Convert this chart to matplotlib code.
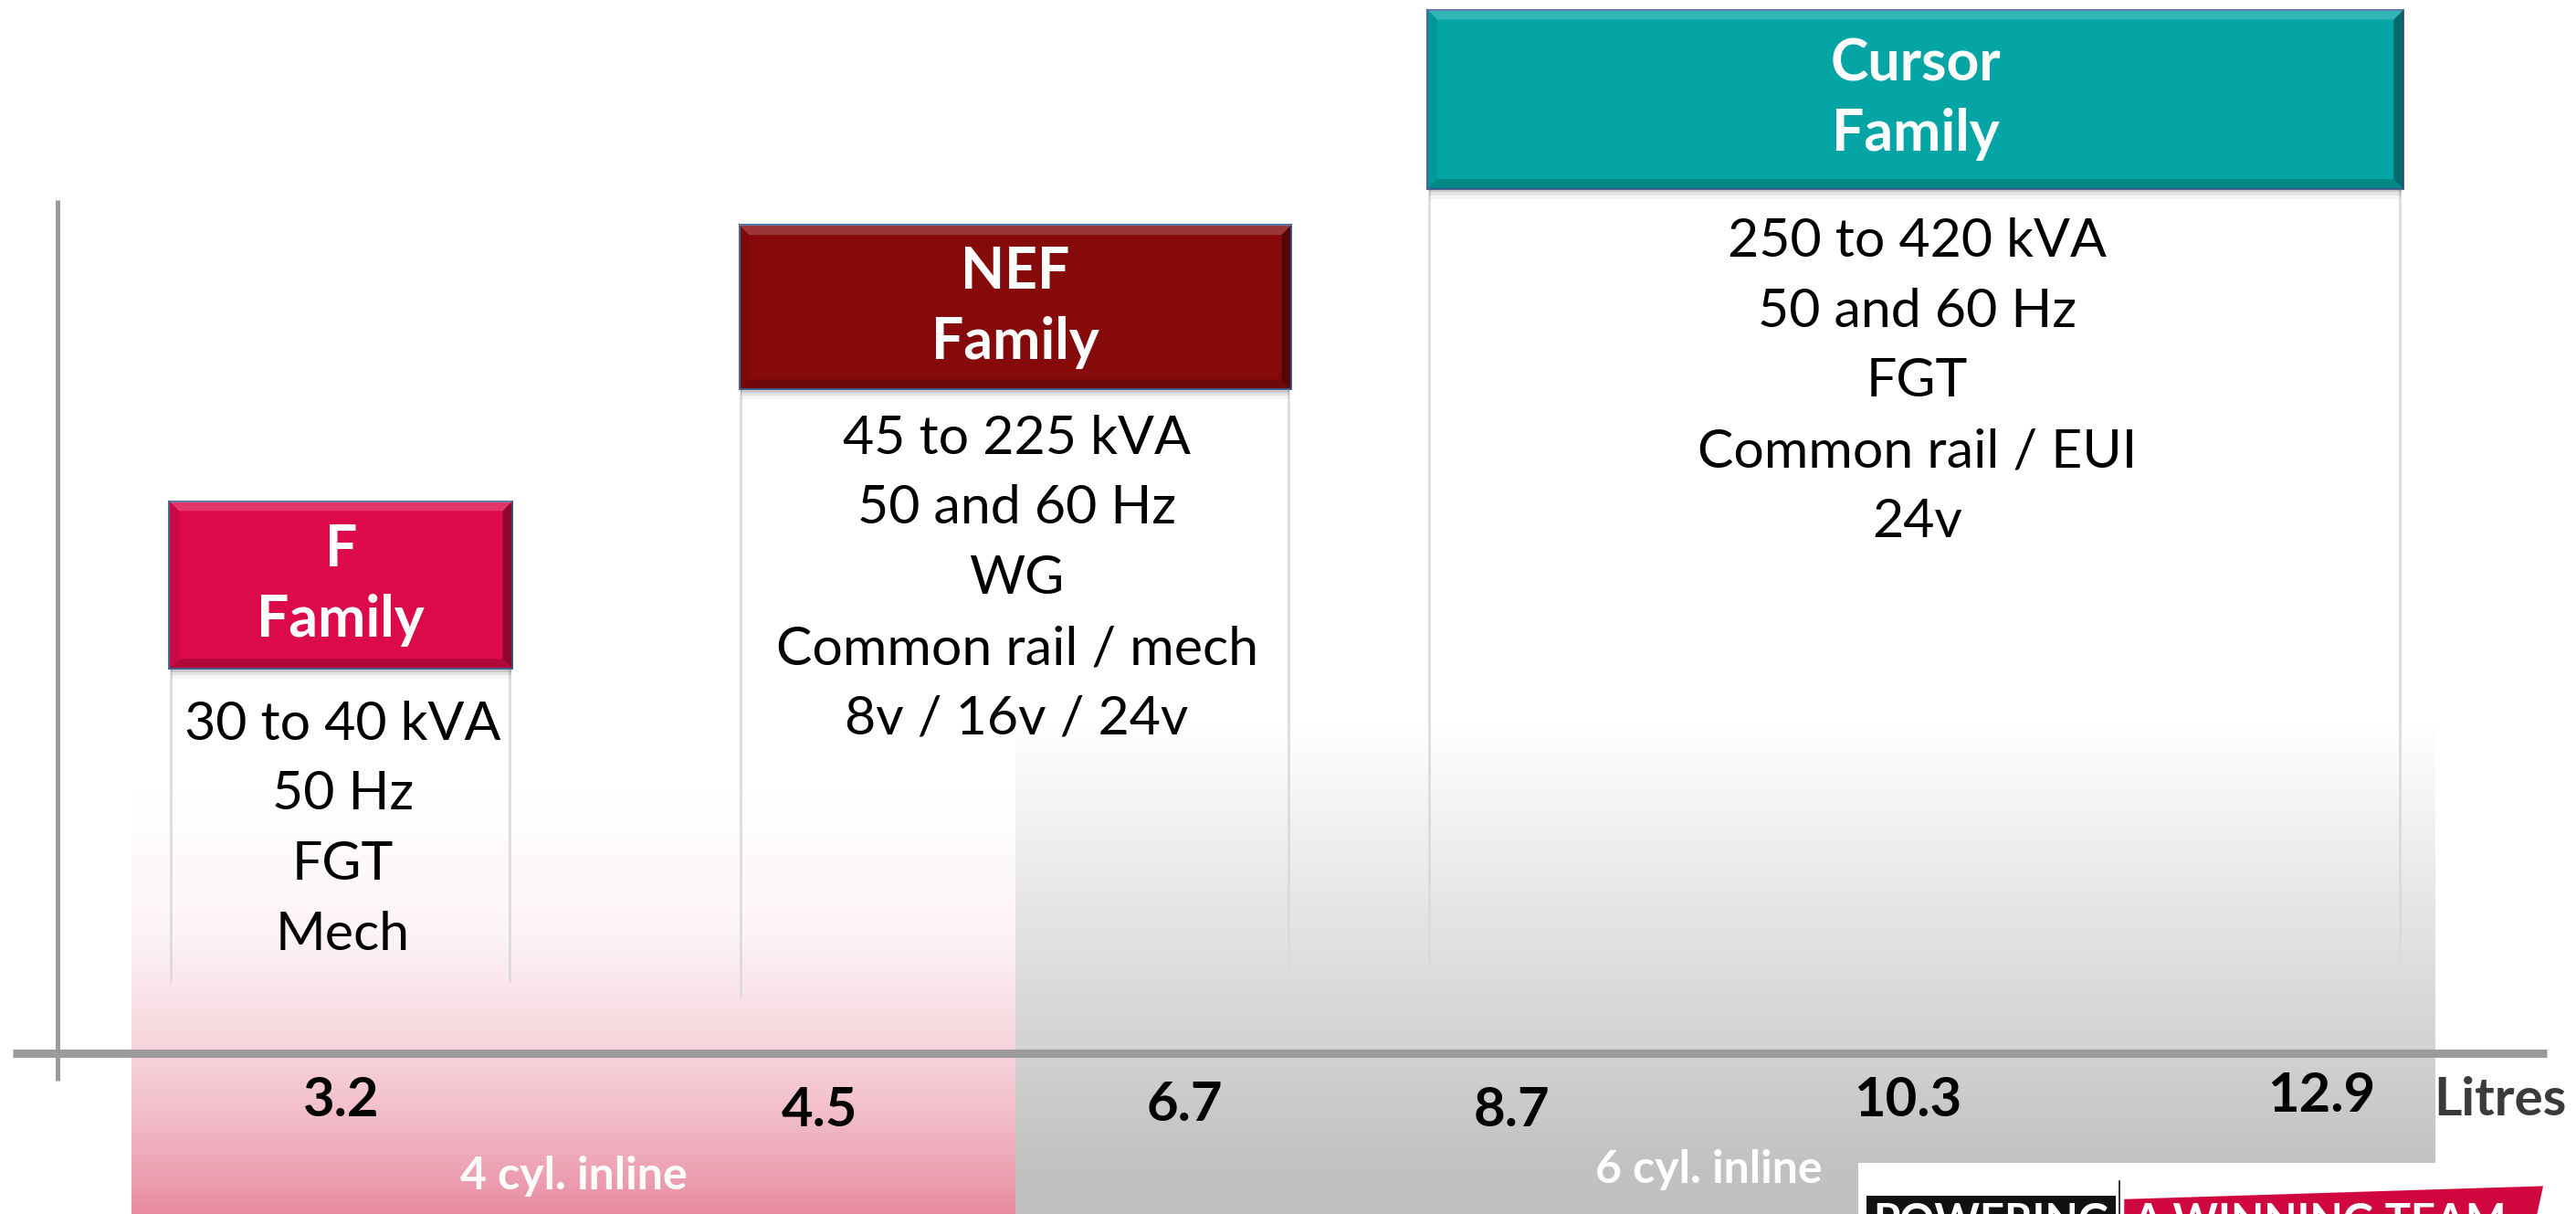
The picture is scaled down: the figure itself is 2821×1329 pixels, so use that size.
import numpy as np
import matplotlib.pyplot as plt
from matplotlib.patches import Rectangle, Polygon

plt.rcParams['font.family'] = ['Lato', 'DejaVu Sans']

# chart content
families = ['F', 'NEF', 'Cursor']
family_colors = ['#DC0A4B', '#870A0A', '#05A5A5']
specs = [
    ['30 to 40 kVA', '50 Hz', 'FGT', 'Mech'],
    ['45 to 225 kVA', '50 and 60 Hz', 'WG', 'Common rail / mech', '8v / 16v / 24v'],
    ['250 to 420 kVA', '50 and 60 Hz', 'FGT', 'Common rail / EUI', '24v'],
]
litres = ['3.2', '4.5', '6.7', '8.7', '10.3', '12.9']
cylinder_groups = ['4 cyl. inline', '6 cyl. inline']
unit_label = 'Litres'

# layout, in units of a 1568 x 739 canvas
box_left = [103, 450, 869]
box_right = [312, 786, 1463]
box_top = [305, 137, 6]
box_bottom = [407, 237, 115]
line_end_left = [597, 606, 586]
line_end_right = [597, 591, 586]
spec_first_y = [441, 267, 147]
line_step = 42.7
litre_x = [207, 499, 721, 920, 1161, 1413]
litre_y = [670, 676, 673, 676, 670, 667]
group_x = [349, 1040]
group_y = [716, 712]

fig = plt.figure(figsize=(28.21, 13.29), dpi=100)
ax = fig.add_axes([0, 0, 1, 1])
ax.set_xlim(0, 1568)
ax.set_ylim(739, 0)
ax.axis('off')


def vgradient(x0, x1, y0, y1, rgb, ys, fr):
    n = 300
    yy = np.linspace(y0, y1, n)
    f = np.interp(yy, ys, fr)
    img = np.ones((n, 1, 4))
    for k in range(3):
        img[:, 0, k] = 1 - f * (1 - rgb[k])
    ax.imshow(img, extent=(x0, x1, y1, y0), aspect='auto',
              interpolation='bilinear', zorder=0)


# background bands
vgradient(80, 618, 430, 739, (232/255, 138/255, 160/255),
          [480, 570, 611, 641, 670, 716, 739], [0, 0.10, 0.26, 0.38, 0.51, 0.81, 1.0])
vgradient(618, 1482, 440, 739, (192/255, 192/255, 192/255),
          [440, 710, 739], [0, 0.97, 1.0])

# axes lines
ax.plot([8, 1550], [641, 641], color='#9A9A9A', lw=6.5, solid_capstyle='butt', zorder=2)
ax.plot([35, 35], [122, 658], color='#9A9A9A', lw=3.6, solid_capstyle='butt', zorder=2)

# family columns
for i, name in enumerate(families):
    l, r, t, b = box_left[i], box_right[i], box_top[i], box_bottom[i]
    ax.plot([l + 1, l + 1], [b, line_end_left[i]], color='#D9D9D9', lw=1.8, zorder=1)
    ax.plot([r - 2, r - 2], [b, line_end_right[i]], color='#D9D9D9', lw=1.8, zorder=1)
    # soft shadow
    for k, a in enumerate([0.10, 0.07, 0.04]):
        ax.add_patch(Rectangle((l + 1, b), r - l - 2, 2 + 2 * k, color='black',
                               alpha=a, lw=0, zorder=3))
    col = family_colors[i]
    ax.add_patch(Rectangle((l, t), r - l, b - t, facecolor=col,
                           edgecolor='#4A6A9A', lw=1.5, zorder=4))
    bv = 6
    ax.add_patch(Polygon([(l, t), (r, t), (r - bv, t + bv), (l + bv, t + bv)],
                         closed=True, facecolor='white', alpha=0.18, lw=0, zorder=5))
    ax.add_patch(Polygon([(l, b), (r, b), (r - bv, b - bv), (l + bv, b - bv)],
                         closed=True, facecolor='black', alpha=0.18, lw=0, zorder=5))
    ax.add_patch(Polygon([(r, t), (r, b), (r - bv, b - bv), (r - bv, t + bv)],
                         closed=True, facecolor='black', alpha=0.35, lw=0, zorder=5))
    ax.add_patch(Polygon([(l, t), (l, b), (l + bv, b - bv), (l + bv, t + bv)],
                         closed=True, facecolor='black', alpha=0.08, lw=0, zorder=5))
    cx = (l + r) / 2
    cy = (t + b) / 2
    ax.text(cx, cy - line_step / 2, name, ha='center', va='center', color='white',
            fontsize=45, fontweight='bold', zorder=6)
    ax.text(cx, cy + line_step / 2, 'Family', ha='center', va='center', color='white',
            fontsize=45, fontweight='bold', zorder=6)
    for j, s in enumerate(specs[i]):
        ax.text(cx + 1, spec_first_y[i] + j * line_step, s, ha='center', va='center',
                color='black', fontsize=42.5, zorder=6)

# displacement labels
for x, y, lab in zip(litre_x, litre_y, litres):
    ax.text(x, y, lab, ha='center', va='center', fontsize=43, fontweight='bold',
            color='black', zorder=6)
ax.text(1522, 670, unit_label, ha='center', va='center', fontsize=42,
        fontweight='bold', color='#3A3A3A', zorder=6)

for x, y, lab in zip(group_x, group_y, cylinder_groups):
    ax.text(x, y, lab, ha='center', va='center', fontsize=36, fontweight='bold',
            color='white', zorder=6)

# logo strip at bottom right
ax.add_patch(Rectangle((1131, 708), 440, 40, facecolor='white', lw=0, zorder=7))
ax.add_patch(Rectangle((1136, 728), 152, 20, facecolor='#111111', lw=0, zorder=8))
ax.plot([1290, 1290], [719, 745], color='#111111', lw=1.2, zorder=8)
ax.add_patch(Polygon([(1293, 730), (1548, 722), (1543, 745), (1293, 745)],
                     closed=True, facecolor='#D0063F', lw=0, zorder=8))
ax.text(1212, 732, 'POWERING', ha='center', va='top', fontsize=34,
        fontweight='bold', color='white', zorder=9)
ax.text(1412, 732, 'A WINNING TEAM', ha='center', va='top', fontsize=34,
        fontweight='bold', color='white', zorder=9)

fig.savefig('out.png', dpi=100)
